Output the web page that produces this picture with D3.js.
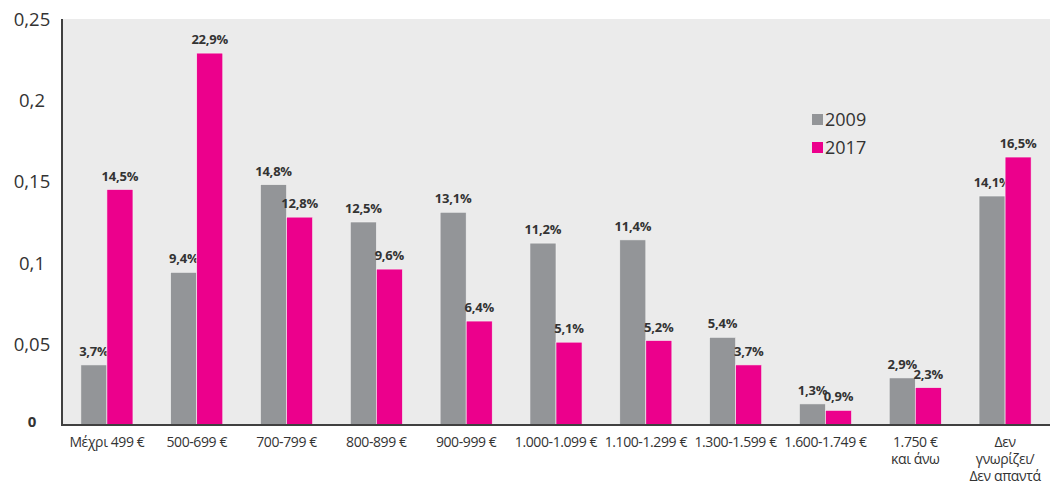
<!DOCTYPE html>
<html><head><meta charset="utf-8">
<script src="https://cdn.jsdelivr.net/npm/d3@7"></script>
<style>
html,body{margin:0;padding:0;background:#fff;}
svg{display:block;}
text{font-family:"Open Sans","DejaVu Sans",sans-serif;fill:#333;}
</style></head>
<body>
<svg id="c" width="1052" height="486"></svg>
<script>
const categories = [["Μέχρι 499 €"],["500-699 €"],["700-799 €"],["800-899 €"],["900-999 €"],["1.000-1.099 €"],["1.100-1.299 €"],["1.300-1.599 €"],["1.600-1.749 €"],["1.750 €","και άνω"],["Δεν","γνωρίζει/","Δεν απαντά"]];
const series = ["2009","2017"];
const values2009 = [3.7, 9.4, 14.8, 12.5, 13.1, 11.2, 11.4, 5.4, 1.3, 2.9, 14.1];
const values2017 = [14.5, 22.9, 12.8, 9.6, 6.4, 5.1, 5.2, 3.7, 0.9, 2.3, 16.5];
const yTicks = [0, 0.05, 0.1, 0.15, 0.2, 0.25];
const yTickLabels = ["0","0,05","0,1","0,15","0,2","0,25"];
const colors = ["#939598","#ec008c"];

const svg = d3.select("#c");
const L = 62, R = 1050, T = 19, B = 425;
const keys = categories.map((c,i)=>i);
const x = d3.scaleBand().domain(keys).range([L,R]).paddingInner(0.42).paddingOuter(0.21);
const xs = d3.scaleBand().domain(series).range([0,x.bandwidth()]);
const y = d3.scaleLinear().domain([0,0.25]).range([B,T]);

svg.append("rect").attr("x",L).attr("y",T).attr("width",R-L).attr("height",B-T).attr("fill","#ebebeb");

const data = [values2009, values2017];
series.forEach((s,si)=>{
  const g = svg.append("g");
  g.selectAll("rect").data(data[si]).join("rect")
    .attr("x",(d,i)=>x(i)+xs(s))
    .attr("y",d=>y(d/100))
    .attr("width",xs.bandwidth())
    .attr("height",d=>B-y(d/100))
    .attr("fill",colors[si])
    .attr("stroke","#f4f4f4").attr("stroke-width",0.6);
  g.selectAll("text").data(data[si]).join("text")
    .attr("x",(d,i)=>x(i)+xs(s)+xs.bandwidth()/2)
    .attr("y",d=>y(d/100)-9)
    .attr("text-anchor","middle")
    .attr("font-size",13).attr("font-weight","bold").attr("fill","#3a3a3a")
    .attr("letter-spacing",-0.2)
    .text(d=>d.toFixed(1).replace(".",",")+"%");
});

// axes
const yAxis = d3.axisLeft(y).tickValues(yTicks).tickSize(0).tickFormat((d,i)=>yTickLabels[i]);
const ya = svg.append("g").attr("transform",`translate(${L},0)`).call(yAxis);
ya.select(".domain").remove();
ya.selectAll("text").attr("x",-30).attr("text-anchor","middle").attr("font-size",18.5).attr("dy","0.35em")
  .style("font-family","'Open Sans',sans-serif").attr("fill","#333");
ya.selectAll(".tick").filter(d=>d===0).select("text").attr("font-size",15).attr("font-weight","bold").attr("dy","0.1em");

const xAxis = d3.axisBottom(x).tickSize(0).tickFormat(()=> "");
const xa = svg.append("g").attr("transform",`translate(0,${B})`).call(xAxis);
xa.select(".domain").remove();
xa.selectAll(".tick text").remove();
xa.selectAll(".tick").append("text")
  .attr("text-anchor","middle").attr("font-size",14).attr("fill","#333").attr("letter-spacing",-0.4)
  .each(function(d){
    const t = d3.select(this);
    categories[d].forEach((line,li)=>{
      t.append("tspan").attr("x",0).attr("y",22+li*17).text(line);
    });
  });

svg.append("line").attr("x1",L).attr("x2",L).attr("y1",T).attr("y2",B+1).attr("stroke","#404040").attr("stroke-width",2);
svg.append("line").attr("x1",L).attr("x2",R).attr("y1",B).attr("y2",B).attr("stroke","#404040").attr("stroke-width",2);

// legend
const lg = svg.append("g").attr("transform","translate(812,110)");
series.forEach((s,i)=>{
  lg.append("rect").attr("x",0).attr("y",i*28+4).attr("width",11).attr("height",11).attr("fill",colors[i]);
  lg.append("text").attr("x",13).attr("y",i*28+16).attr("font-size",18).text(s);
});
</script>
</body></html>
